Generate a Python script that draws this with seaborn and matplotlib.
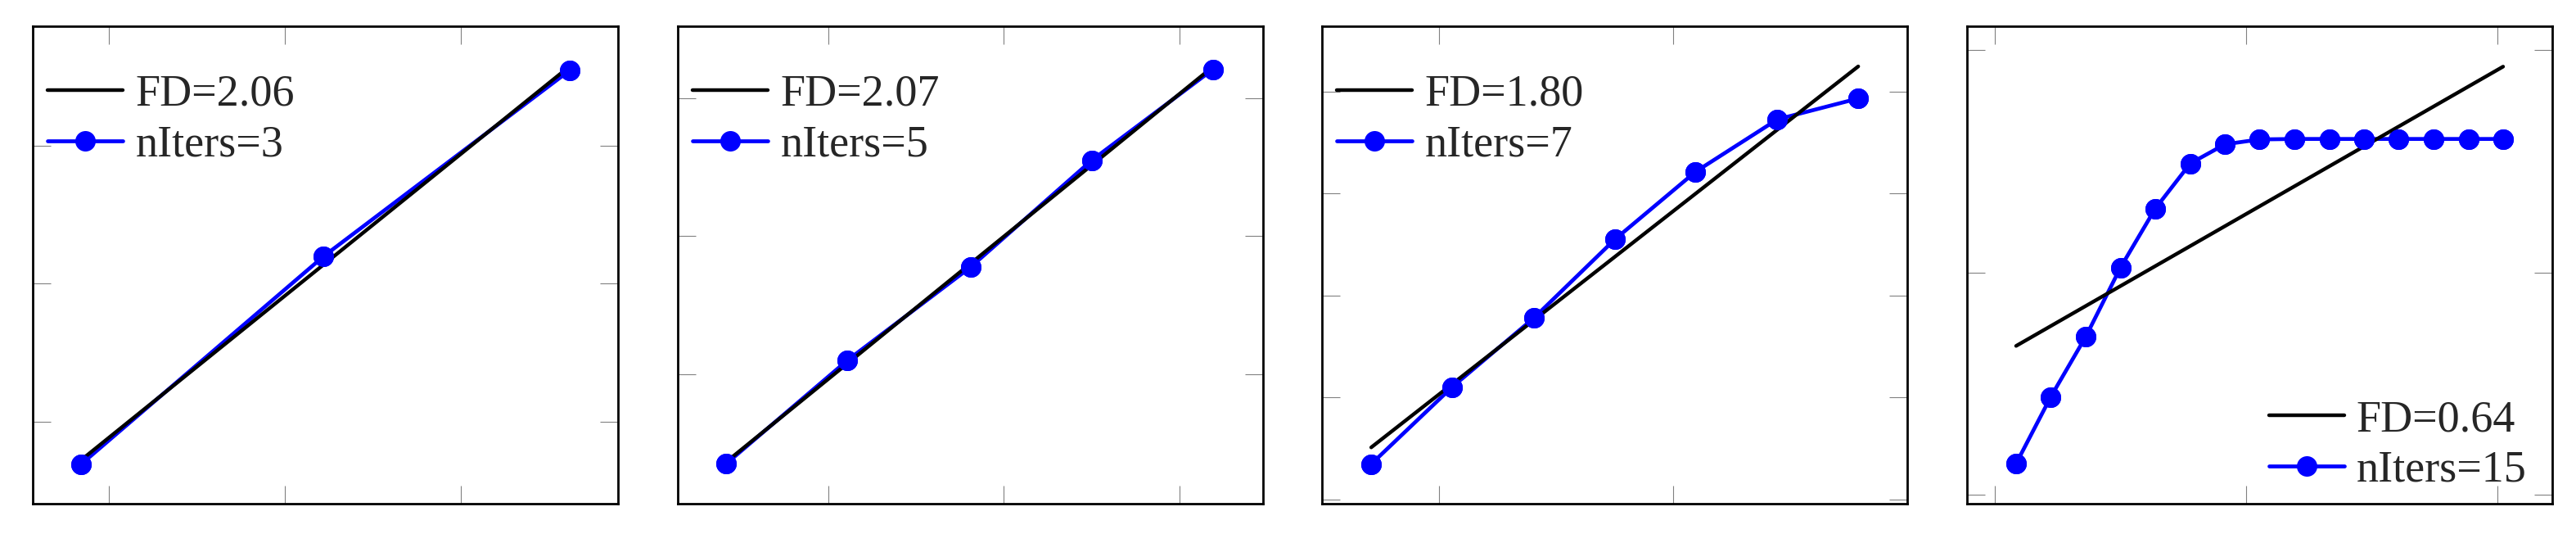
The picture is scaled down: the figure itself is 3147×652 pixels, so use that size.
import matplotlib
matplotlib.use("Agg")
import matplotlib.pyplot as plt
import numpy as np
import pandas as pd
import seaborn as sns
from matplotlib.ticker import MultipleLocator

# ---------------- data ----------------
log_inv_scale = [0.42, 1.11, 1.81, 2.50, 3.19, 3.89, 4.58, 5.27,
                 5.97, 6.66, 7.35, 8.04, 8.74, 9.43, 10.12]
n_iters = [3, 5, 7, 15]
fd_values = [2.06, 2.07, 1.80, 0.64]
log_counts_3 = [0.69, 2.20, 3.55]
log_counts_5 = [0.70, 2.20, 3.55, 5.10, 6.42]
log_counts_7 = [0.69, 2.20, 3.56, 5.10, 6.43, 7.46, 7.87]
log_counts_15 = [0.70, 2.20, 3.56, 5.11, 6.43, 7.45, 7.88, 7.99,
                 8.00, 8.00, 8.00, 8.00, 8.00, 8.00, 8.00]
series = [log_counts_3, log_counts_5, log_counts_7, log_counts_15]

# ---------------- layout / style ----------------
x_limits = [(0.282, 1.945), (0.142, 3.473), (-0.004, 4.995), (-0.566, 11.091)]
y_limits = [(0.408, 3.868), (0.126, 7.046), (-0.080, 9.289), (-0.191, 10.535)]
x_tick_base = [0.5, 1.0, 2.0, 5.0]
x_tick_offset = [0.0, 0.0, 1.0, 0.0]
y_tick_base = [1.0, 2.0, 2.0, 5.0]

W, H = 3147, 652
lefts_px = [39.5, 827.5, 1614.5, 2402.5]
width_px = 715.0
top_px, bottom_px = 32.0, 614.5

sns.set_style("white")
plt.rcParams["font.family"] = ["Liberation Serif", "DejaVu Serif"]

fig = plt.figure(figsize=(W / 100, H / 100), dpi=100)
fig.patch.set_facecolor("white")

for i in range(4):
    ax = fig.add_axes([lefts_px[i] / W, (H - bottom_px) / H,
                       width_px / W, (bottom_px - top_px) / H])
    n = n_iters[i]
    df = pd.DataFrame({"x": log_inv_scale[:n], "y": series[i]})

    sns.regplot(data=df, x="x", y="y", ax=ax, scatter=False, ci=None,
                truncate=True, label=f"FD={fd_values[i]:.2f}",
                line_kws=dict(color="black", lw=3.2, zorder=3))
    sns.lineplot(data=df, x="x", y="y", ax=ax, color="blue", lw=3.4,
                 marker="o", markersize=18, markeredgewidth=0, zorder=2,
                 label=f"nIters={n}")
    sns.scatterplot(data=df, x="x", y="y", ax=ax, color="blue", s=324,
                    linewidth=0, zorder=4, legend=False)

    ax.set_xlim(*x_limits[i])
    ax.set_ylim(*y_limits[i])
    ax.xaxis.set_major_locator(MultipleLocator(x_tick_base[i], x_tick_offset[i]))
    ax.yaxis.set_major_locator(MultipleLocator(y_tick_base[i]))
    ax.set_xlabel("")
    ax.set_ylabel("")
    ax.tick_params(axis="both", which="major", direction="in", length=16,
                   width=0.8, color="#808080", top=True, right=True,
                   bottom=True, left=True, labelbottom=False, labelleft=False)
    for sp in ax.spines.values():
        sp.set_visible(True)
        sp.set_color("black")
        sp.set_linewidth(2.0)

    if i < 3:
        ax.legend(loc="upper left", bbox_to_anchor=(0.026, 0.90),
                  frameon=False, fontsize=39, handlelength=1.7,
                  handletextpad=0.28, labelspacing=0.21, borderpad=0,
                  borderaxespad=0)
    else:
        ax.legend(loc="lower right", bbox_to_anchor=(0.957, 0.025),
                  frameon=False, fontsize=39, handlelength=1.7,
                  handletextpad=0.28, labelspacing=0.21, borderpad=0,
                  borderaxespad=0)

fig.savefig("out.png", dpi=100, facecolor="white")
